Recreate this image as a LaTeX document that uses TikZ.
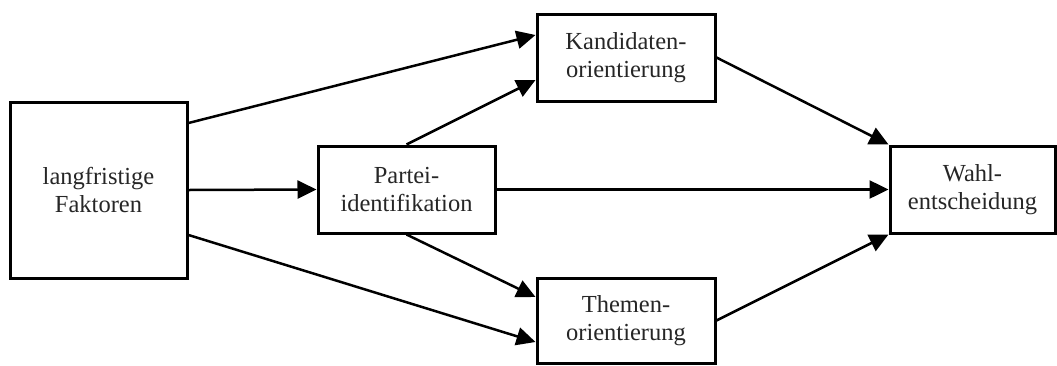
\documentclass[tikz,border=0pt]{standalone}
\usepackage{fontspec}
\setmainfont{Liberation Serif}
\usetikzlibrary{arrows.meta}
\begin{document}
\begin{tikzpicture}[x=1pt,y=-1pt,
  box/.style={draw=black,line width=3pt,rectangle,inner sep=0pt,align=center,
    font=\fontsize{24.5}{28}\selectfont,text=black!85},
  conn/.style={line width=2.5pt,-{Triangle[length=19pt,width=18pt]}}]
\useasboundingbox (0,0) rectangle (1057,365);
\node[box,minimum width=177pt,minimum height=176pt] (lf) at (98.5,190) {langfristige\\Faktoren};
\node[box,minimum width=177pt,minimum height=87pt] (pi) at (406.5,189.5) {Partei-\\identifikation};
\node[box,minimum width=178pt,minimum height=87pt] (ko) at (626,57.5) {Kandidaten-\\orientierung};
\node[box,minimum width=178pt,minimum height=85pt] (th) at (626,320.5) {Themen-\\orientierung};
\node[box,minimum width=165pt,minimum height=87pt] (we) at (972.5,189.5) {Wahl-\\entscheidung};
\coordinate (lfa) at ([yshift=67pt]lf.east);
\coordinate (lfb) at ([yshift=-45pt]lf.east);
\coordinate (koa) at ([yshift=22.5pt]ko.west);
\coordinate (kob) at ([yshift=-22.5pt]ko.west);
\coordinate (tha) at ([yshift=23.5pt]th.west);
\coordinate (thb) at ([yshift=-21.5pt]th.west);
\draw[conn] (lfa) -- (koa);
\draw[conn] (lf.east) -- (pi.west);
\draw[conn] (lfb) -- (thb);
\draw[conn] (pi.north) -- (kob);
\draw[conn] (pi.south) -- (tha);
\draw[conn] (pi.east) -- (we.west);
\draw[conn] (ko.east) -- (we.north west);
\draw[conn] (th.east) -- (we.south west);
\end{tikzpicture}
\end{document}
